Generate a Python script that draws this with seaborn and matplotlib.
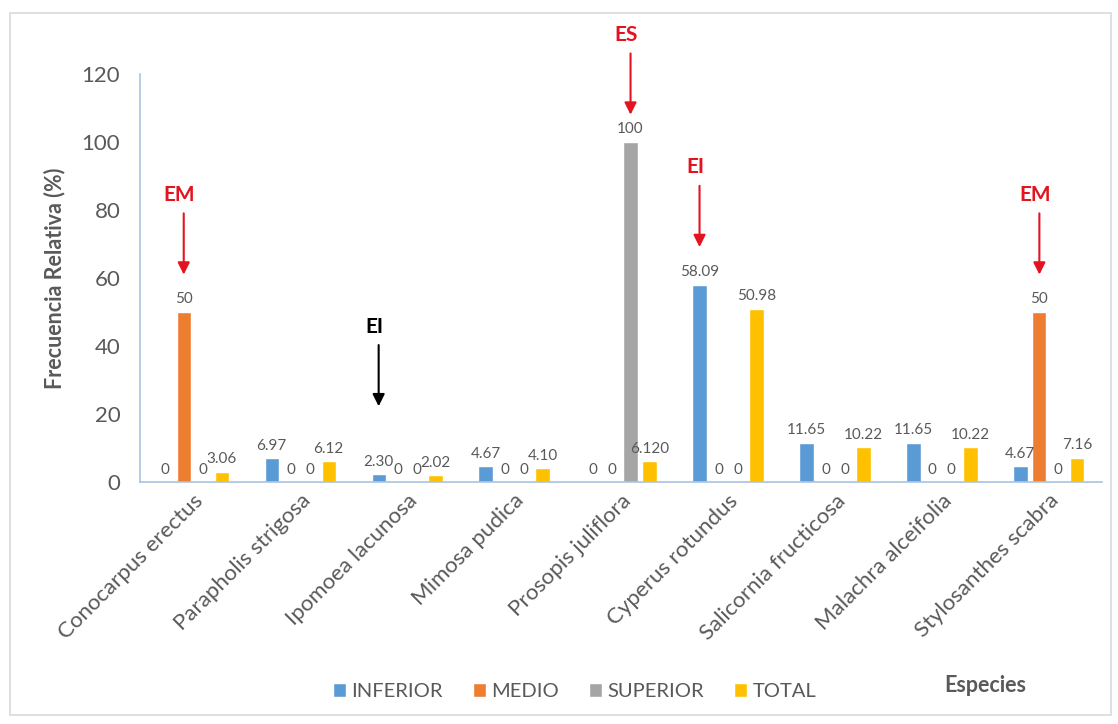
import numpy as np
import pandas as pd
import matplotlib
matplotlib.use('Agg')
import matplotlib.pyplot as plt
from matplotlib.patches import Rectangle
import seaborn as sns

species = ['Conocarpus erectus', 'Parapholis strigosa', 'Ipomoea lacunosa',
           'Mimosa pudica', 'Prosopis juliflora', 'Cyperus rotundus',
           'Salicornia fructicosa', 'Malachra alceifolia', 'Stylosanthes scabra']
levels = ['INFERIOR', 'MEDIO', 'SUPERIOR', 'TOTAL']

inferior = [0, 6.97, 2.30, 4.67, 0, 58.09, 11.65, 11.65, 4.67]
medio = [50, 0, 0, 0, 0, 0, 0, 0, 50]
superior = [0, 0, 0, 0, 100, 0, 0, 0, 0]
total = [3.06, 6.12, 2.02, 4.10, 6.12, 50.98, 10.22, 10.22, 7.16]

inferior_labels = ['0', '6.97', '2.30', '4.67', '0', '58.09', '11.65', '11.65', '4.67']
medio_labels = ['50', '0', '0', '0', '0', '0', '0', '0', '50']
superior_labels = ['0', '0', '0', '0', '100', '0', '0', '0', '0']
total_labels = ['3.06', '6.12', '2.02', '4.10', '6.120', '50.98', '10.22', '10.22', '7.16']

# annotations: (text, species index, level, colour)
marks = [('EM', 0, 'MEDIO', '#E3141F'),
         ('EI', 2, 'INFERIOR', 'black'),
         ('ES', 4, 'SUPERIOR', '#E3141F'),
         ('EI', 5, 'INFERIOR', '#E3141F'),
         ('EM', 8, 'MEDIO', '#E3141F')]

colors = ['#5B9BD5', '#ED7D31', '#A5A5A5', '#FFC000']
grey = '#595959'

sns.set_style('white')
plt.rcParams['font.family'] = ['Lato', 'DejaVu Sans']

df = pd.DataFrame({
    'Especie': species * 4,
    'Nivel': np.repeat(levels, len(species)),
    'Valor': inferior + medio + superior + total,
})

fig = plt.figure(figsize=(11.18, 7.24), dpi=100)
ax = fig.add_axes([0.125, 0.334, 0.861, 0.564])

width = 0.71
sns.barplot(data=df, x='Especie', y='Valor', hue='Nivel', hue_order=levels,
            order=species, palette=colors, width=width, gap=0.25,
            saturation=1, legend=True, ax=ax)

for cont, labs in zip(ax.containers, [inferior_labels, medio_labels,
                                      superior_labels, total_labels]):
    ax.bar_label(cont, labels=labs, padding=4, fontsize=11, color=grey)

ax.set_ylim(0, 120)
ax.set_yticks(range(0, 121, 20))
ax.set_xlim(-0.5, len(species) - 0.5)
ax.tick_params(axis='y', labelsize=16, labelcolor=grey, length=0, pad=14)
ax.tick_params(axis='x', length=0, pad=6)
ax.set_xticks(range(len(species)))
ax.set_xticklabels(species, rotation=45, ha='right', rotation_mode='anchor',
                   fontsize=16, color=grey)
ax.set_xlabel('')
ax.set_ylabel('Frecuencia Relativa (%)', fontsize=15.5, fontweight='bold',
              color=grey, labelpad=12)

for s in ['top', 'right']:
    ax.spines[s].set_visible(False)
for s in ['left', 'bottom']:
    ax.spines[s].set_color('#A9C4E0')
    ax.spines[s].set_linewidth(1.2)

# arrows pointing at bars
for text, i, lvl, col in marks:
    j = levels.index(lvl)
    bar = ax.containers[j][i]
    x = bar.get_x() + bar.get_width() / 2
    h = bar.get_height()
    tip = h + (8 if h >= 100 else 11 if h >= 20 else 20)
    tail = tip + 18
    ax.annotate('', xy=(x, tip), xytext=(x, tail),
                arrowprops=dict(arrowstyle='-|>', color=col, lw=1.5,
                                mutation_scale=18, shrinkA=0, shrinkB=0),
                annotation_clip=False)
    ax.text(x - 0.04, tail + 2.5, text, color=col, fontsize=15,
            fontweight='bold', ha='center', va='bottom', clip_on=False)

handles, labels = ax.get_legend_handles_labels()
ax.legend_.remove()
fig.legend(handles, labels, loc='center', bbox_to_anchor=(0.514, 0.045),
           ncol=4, frameon=False, fontsize=14.5, handlelength=0.65,
           handleheight=0.65, handletextpad=0.25, columnspacing=1.5,
           labelcolor=grey)

fig.text(0.881, 0.053, 'Especies', fontsize=15.5, fontweight='bold',
         color=grey, ha='center', va='center')

fig.patches.append(Rectangle((0.009, 0.012), 0.985, 0.97,
                             transform=fig.transFigure, fill=False,
                             edgecolor='#D9D9D9', lw=1.2))

fig.savefig('out.png', dpi=100)
